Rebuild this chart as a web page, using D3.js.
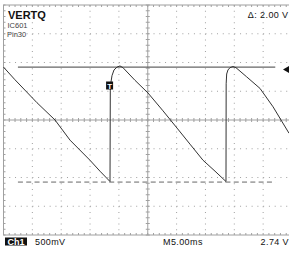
<!DOCTYPE html>
<html>
<head>
<meta charset="utf-8">
<script src="https://cdn.jsdelivr.net/npm/d3@7"></script>
<style>
  body { margin: 0; background: #fff; }
  svg { display: block; font-family: "Liberation Sans", Arial, sans-serif; }
</style>
</head>
<body>
<div class="scope"></div>
<script>
// waveform samples: time (ms) and voltage (V, relative to screen centre)
var timeMs = [0, 1.99, 5.81, 8.93, 11.53, 14.99, 16.72, 18.46,
    18.51, 18.63, 18.8, 19.15, 19.67, 20.19, 20.71,
    22.79, 25.04, 27.64, 30.07, 32.32, 34.58, 36.66, 38.56,
    38.59, 38.68, 38.9, 39.25, 39.77, 40.29,
    42.15, 44.45, 46.71, 49.48];
var volts = [0.92, 0.70, 0.30, 0.0, -0.35, -0.70, -0.89, -1.07,
    0.52, 0.66, 0.77, 0.87, 0.92, 0.94, 0.91,
    0.69, 0.47, 0.16, -0.14, -0.42, -0.70, -0.89, -1.07,
    0.63, 0.80, 0.87, 0.91, 0.93, 0.91,
    0.75, 0.55, 0.23, -0.23];
var cursorVolts = [0.92, -1.08];   // solid, dashed
var timeDomain = [0, 50],          // 10 div x 5 ms
    voltDomain = [-2, 2];          // 8 div x 500 mV
var triggerTime = 18.3, triggerVolt = 0.6;

var W = 289, H = 253;
// 屏幕网格边界
var gLeft = 3.5, gRight = 292, gTop = 5, gBottom = 235;
var gridColor = '#a0a0a0';

var svg = d3.select('.scope').append('svg')
    .attr('width', W).attr('height', H);

var x = d3.scaleLinear().domain(timeDomain).range([gLeft, gRight]);
var y = d3.scaleLinear().domain(voltDomain).range([gBottom, gTop]);

var xDivs = d3.range(0, 51, 5),
    yDivs = d3.range(-2, 2.01, 0.5);
var xMinor = d3.range(0, 50.01, 1),
    yMinor = d3.range(-2, 2.01, 0.1);

var grid = svg.append('g').classed('grid', true);

// dotted division lines
grid.selectAll('line.vdiv')
    .data(xDivs.filter(function(d) { return d > 0 && d < 50 && d != 25; }))
    .enter().append('line')
    .attr('x1', function(d) { return x(d); })
    .attr('x2', function(d) { return x(d); })
    .attr('y1', gTop).attr('y2', gBottom)
    .style('stroke', gridColor)
    .style('stroke-dasharray', '1,4.75');
grid.selectAll('line.hdiv')
    .data(yDivs.filter(function(d) { return Math.abs(d) > 0.01 && Math.abs(d) < 1.99; }))
    .enter().append('line')
    .attr('y1', function(d) { return y(d); })
    .attr('y2', function(d) { return y(d); })
    .attr('x1', gLeft).attr('x2', gRight)
    .style('stroke', gridColor)
    .style('stroke-dasharray', '1,4.77');

// centre crosshair
grid.append('line')
    .attr('x1', x(25)).attr('x2', x(25)).attr('y1', gTop).attr('y2', gBottom)
    .style('stroke', gridColor);
grid.append('line')
    .attr('x1', gLeft).attr('x2', gRight).attr('y1', y(0)).attr('y2', y(0))
    .style('stroke', gridColor);

// border
grid.append('rect')
    .attr('x', gLeft).attr('y', gTop)
    .attr('width', gRight - gLeft).attr('height', gBottom - gTop)
    .style('fill', 'none').style('stroke', gridColor);

// minor ticks on centre lines and border
var ticks = grid.append('g').style('stroke', gridColor);
xMinor.forEach(function(d) {
    ticks.append('line').attr('x1', x(d)).attr('x2', x(d)).attr('y1', y(0) - 2).attr('y2', y(0) + 2);
    ticks.append('line').attr('x1', x(d)).attr('x2', x(d)).attr('y1', gTop).attr('y2', gTop + 2);
    ticks.append('line').attr('x1', x(d)).attr('x2', x(d)).attr('y1', gBottom - 2).attr('y2', gBottom);
});
yMinor.forEach(function(d) {
    ticks.append('line').attr('y1', y(d)).attr('y2', y(d)).attr('x1', x(25) - 2).attr('x2', x(25) + 2);
    ticks.append('line').attr('y1', y(d)).attr('y2', y(d)).attr('x1', gLeft).attr('x2', gLeft + 2);
});

// cursors
var cursorX1 = x(2.5), cursorX2 = x(47.1);
svg.append('line')
    .attr('x1', cursorX1).attr('x2', cursorX2)
    .attr('y1', y(cursorVolts[0])).attr('y2', y(cursorVolts[0]))
    .style('stroke', '#666').style('stroke-width', 1.3);
svg.append('line')
    .attr('x1', cursorX1).attr('x2', cursorX2)
    .attr('y1', y(cursorVolts[1])).attr('y2', y(cursorVolts[1]))
    .style('stroke', '#a8a8a8').style('stroke-width', 1.6)
    .style('stroke-dasharray', '5,3.3');

// waveform
var line = d3.line()
    .x(function(d, i) { return x(timeMs[i]); })
    .y(function(d, i) { return y(volts[i]); });
svg.append('path')
    .datum(volts)
    .attr('d', line)
    .style('fill', 'none')
    .style('stroke', '#333')
    .style('stroke-width', 1);

// trigger marker
var tx = x(triggerTime), ty = y(triggerVolt);
svg.append('rect')
    .attr('x', tx - 3).attr('y', ty - 4).attr('width', 7).attr('height', 8)
    .style('fill', '#111');
svg.append('text')
    .attr('x', tx + 0.5).attr('y', ty + 3)
    .attr('text-anchor', 'middle')
    .style('font-size', '8px').style('font-weight', 'bold').style('fill', '#fff')
    .text('T');

// level marker on the right
var my = y(0.88);
svg.append('path')
    .attr('d', 'M' + 283 + ',' + my + 'L' + 289 + ',' + (my - 3.5) + 'L' + 289 + ',' + (my + 3.5) + 'Z')
    .style('fill', '#111');

// labels
svg.append('text').attr('x', 8).attr('y', 19)
    .style('font-size', '11px').style('font-weight', 'bold').style('fill', '#111')
    .text('VERTQ');
svg.append('text').attr('x', 7.5).attr('y', 27.5)
    .style('font-size', '7.5px').style('fill', '#444')
    .text('IC601');
svg.append('text').attr('x', 7).attr('y', 36.5)
    .style('font-size', '7.5px').style('fill', '#444')
    .text('Pin30');
svg.append('text').attr('x', 288.5).attr('y', 17.5)
    .attr('text-anchor', 'end')
    .style('font-size', '9px').style('letter-spacing', '0.4px').style('fill', '#111')
    .text('\u0394: 2.00 V');

// bottom readout
svg.append('rect').attr('x', 5).attr('y', 237.5).attr('width', 22).attr('height', 8)
    .style('fill', '#111');
svg.append('text').attr('x', 16).attr('y', 245)
    .attr('text-anchor', 'middle')
    .style('font-size', '9px').style('font-weight', 'bold').style('fill', '#fff')
    .text('Ch1');
svg.append('text').attr('x', 35).attr('y', 244.5)
    .style('font-size', '9px').style('letter-spacing', '0.4px').style('fill', '#111')
    .text('500mV');
svg.append('text').attr('x', 163).attr('y', 244.5)
    .style('font-size', '9px').style('letter-spacing', '0.4px').style('fill', '#111')
    .text('M5.00ms');
svg.append('text').attr('x', 289).attr('y', 244.5)
    .attr('text-anchor', 'end')
    .style('font-size', '9px').style('letter-spacing', '0.4px').style('fill', '#111')
    .text('2.74 V');
</script>
</body>
</html>
